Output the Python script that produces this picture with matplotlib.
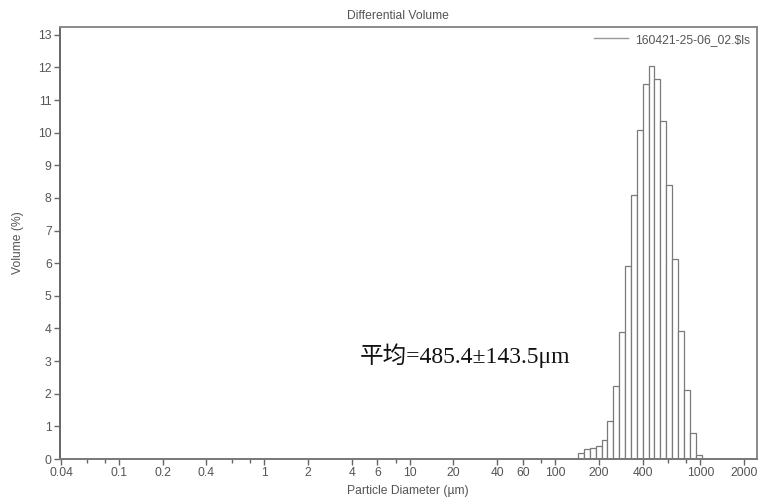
import matplotlib
matplotlib.use("Agg")
import matplotlib.pyplot as plt
from matplotlib.ticker import FixedLocator, FixedFormatter, NullFormatter

# Channel edges (µm) of the non-empty bins
bin_edges = [143.9, 157.9, 173.3, 190.3, 208.9, 229.2, 251.6, 276.2, 303.1, 332.8,
             365.2, 400.9, 440.1, 483.0, 530.2, 582.0, 638.8, 701.2, 769.7, 844.8,
             927.4, 1018.0]
# Differential volume (%) per channel
volume = [0.18, 0.31, 0.34, 0.39, 0.59, 1.15, 2.25, 3.88, 5.90, 8.08,
          10.08, 11.48, 12.03, 11.64, 10.36, 8.40, 6.12, 3.91, 2.11, 0.81,
          0.13]

major_ticks = [0.04, 0.1, 0.2, 0.4, 1, 2, 4, 6, 10, 20, 40, 60, 100, 200, 400, 1000, 2000]
major_labels = ["0.04", "0.1", "0.2", "0.4", "1", "2", "4", "6", "10", "20", "40", "60",
                "100", "200", "400", "1000", "2000"]
minor_ticks = [0.06, 0.08, 0.6, 0.8, 8, 80, 600, 800]
y_ticks = list(range(0, 14))

title = "Differential Volume"
legend_label = "160421-25-06_02.$ls"
annotation = "平均=485.4±143.5μm"

plt.rcParams['font.family'] = ['Liberation Sans', 'DejaVu Sans']
FS = 8.7

fig = plt.figure(figsize=(7.58, 4.97), dpi=100)
ax = fig.add_axes([60 / 758, 38 / 497, 697 / 758, 432 / 497])

lefts = bin_edges[:-1]
widths = [b - a for a, b in zip(bin_edges[:-1], bin_edges[1:])]
ax.bar(lefts, volume, width=widths, align='edge', facecolor='white',
       edgecolor='#7a7a7a', linewidth=0.9)

ax.plot([], [], color='#999999', lw=1, label=legend_label)

ax.set_xscale('log')
ax.set_xlim(0.0394, 2450)
ax.set_ylim(0, 13.24)

ax.xaxis.set_major_locator(FixedLocator(major_ticks))
ax.xaxis.set_major_formatter(FixedFormatter(major_labels))
ax.xaxis.set_minor_locator(FixedLocator(minor_ticks))
ax.xaxis.set_minor_formatter(NullFormatter())
ax.set_yticks(y_ticks)
ax.set_yticklabels([str(v) for v in y_ticks])

ax.tick_params(axis='both', which='major', direction='out', length=4.5, width=1,
               color='#666666', labelcolor='#555555', labelsize=FS, pad=1.5)
ax.tick_params(axis='x', which='minor', direction='out', length=3, width=1,
               color='#666666')

for side, sp in ax.spines.items():
    sp.set_color('#8a8a8a')
    sp.set_linewidth(1.4)
ax.spines['left'].set_color('#666666')
ax.spines['bottom'].set_color('#777777')

fig.text(398 / 758, 1 - 16 / 497, title, ha='center', va='center',
         fontsize=FS, color='#555555')
fig.text(18 / 758, 1 - 243 / 497, "Volume (%)", ha='center', va='center',
         rotation=90, fontsize=FS, color='#555555')
fig.text(408 / 758, 12 / 497, "Particle Diameter (µm)", ha='center', va='top',
         fontsize=FS, color='#555555')

leg = ax.legend(loc='upper right', frameon=False, fontsize=FS,
                handlelength=2.8, handletextpad=0.6, borderaxespad=0.15,
                bbox_to_anchor=(1.0, 1.0))
for t in leg.get_texts():
    t.set_color('#555555')

ax.text(0.43, 0.24, annotation, transform=ax.transAxes, ha='left', va='center',
        fontsize=17, color='#111111',
        family=['Liberation Serif', 'Noto Sans CJK SC', 'DejaVu Serif'])

fig.savefig("out.png", dpi=100)
